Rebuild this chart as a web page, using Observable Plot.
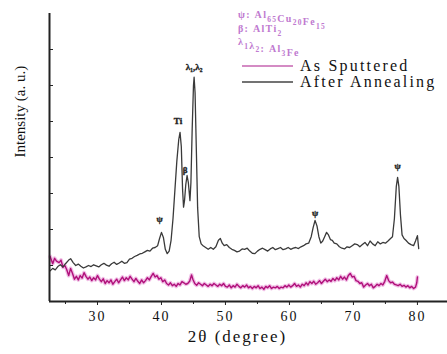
<!DOCTYPE html>
<html><head><meta charset="utf-8">
<script src="https://cdn.jsdelivr.net/npm/d3@7"></script>
<script src="https://cdn.jsdelivr.net/npm/@observablehq/plot@0.6"></script>
<style>
body{margin:0;background:#fff}
#wrap{position:relative;width:447px;height:354px;overflow:hidden;background:#fff}
#overlay{position:absolute;left:0;top:0;pointer-events:none}
</style></head><body>
<div id="wrap"></div>
<script>
// After Annealing (black)
const annealX = [22.6,23.0,23.4,23.8,24.2,24.6,25.0,25.5,25.8,26.2,26.6,27.0,27.4,27.8,28.2,28.6,29.0,29.4,29.8,30.2,30.6,31.0,31.4,31.8,32.2,32.6,33.0,33.4,33.8,34.2,34.6,35.0,35.4,35.8,36.2,36.6,37.0,37.4,37.8,38.2,38.6,39.0,39.4,39.7,40.0,40.3,40.6,40.9,41.2,41.5,41.8,42.1,42.4,42.7,42.9,43.1,43.3,43.45,43.6,43.8,44.0,44.2,44.45,44.6,44.8,45.0,45.1,45.25,45.45,45.65,45.9,46.2,46.5,46.9,47.3,47.7,48.1,48.5,48.9,49.2,49.5,49.8,50.2,50.6,51.0,51.4,51.8,52.2,52.6,53.0,53.4,53.8,54.2,54.6,55.0,55.4,55.8,56.2,56.6,57.0,57.4,57.8,58.2,58.6,59.0,59.4,59.8,60.2,60.6,61.0,61.4,61.8,62.2,62.6,63.0,63.4,63.7,64.0,64.3,64.6,64.9,65.2,65.5,65.8,66.1,66.4,66.7,67.0,67.4,67.8,68.2,68.6,69.0,69.4,69.8,70.2,70.6,71.0,71.4,71.8,72.2,72.6,73.0,73.4,73.8,74.2,74.6,75.0,75.4,75.8,76.1,76.4,76.7,76.9,77.1,77.35,77.6,77.9,78.2,78.6,79.0,79.4,79.7,80.0,80.2];
const annealY = [0.85,0.92,0.88,0.97,1.02,0.96,1.05,1.15,1.19,1.08,1.0,1.04,0.98,0.93,0.96,1.0,0.97,1.02,0.99,0.96,1.02,1.06,1.01,0.98,1.05,1.09,1.03,1.07,1.12,1.06,1.08,1.18,1.2,1.25,1.28,1.32,1.34,1.38,1.42,1.4,1.48,1.5,1.55,1.75,1.92,1.78,1.45,1.33,1.4,1.7,2.3,3.1,3.9,4.5,4.7,4.3,3.1,2.62,2.8,3.25,3.5,3.3,2.8,3.3,4.8,6.0,6.23,5.8,4.2,2.6,1.8,1.6,1.55,1.5,1.45,1.5,1.45,1.52,1.7,1.75,1.62,1.55,1.58,1.5,1.45,1.42,1.38,1.4,1.46,1.45,1.48,1.4,1.34,1.33,1.4,1.45,1.48,1.44,1.4,1.46,1.5,1.44,1.47,1.5,1.44,1.46,1.5,1.45,1.48,1.5,1.47,1.52,1.55,1.6,1.62,1.8,2.05,2.25,2.1,1.8,1.62,1.68,1.8,1.92,1.85,1.72,1.7,1.62,1.6,1.52,1.48,1.46,1.52,1.5,1.55,1.6,1.58,1.52,1.58,1.64,1.55,1.68,1.6,1.55,1.66,1.6,1.64,1.62,1.68,1.75,1.8,2.3,3.2,3.45,3.2,2.4,1.85,1.75,1.7,1.62,1.58,1.55,1.68,1.83,1.47];
// As Sputtered (magenta)
const sputterX = [22.6,23.0,23.3,23.6,24.0,24.3,24.6,24.9,25.2,25.5,25.8,26.1,26.4,26.7,27.0,27.3,27.6,27.9,28.2,28.5,28.8,29.1,29.4,29.7,30.0,30.3,30.6,30.9,31.2,31.5,31.8,32.1,32.4,32.7,33.0,33.3,33.6,33.9,34.2,34.5,34.8,35.1,35.4,35.7,36.0,36.3,36.6,36.9,37.2,37.5,37.8,38.1,38.4,38.7,39.0,39.3,39.6,39.9,40.2,40.5,40.8,41.1,41.4,41.7,42.0,42.3,42.6,42.9,43.2,43.5,43.8,44.1,44.4,44.7,44.9,45.2,45.5,45.8,46.1,46.4,46.7,47.0,47.3,47.6,47.9,48.2,48.5,48.8,49.1,49.4,49.7,50.0,50.3,50.6,50.9,51.2,51.5,51.8,52.1,52.4,52.7,53.0,53.3,53.6,53.9,54.2,54.5,54.8,55.1,55.4,55.7,56.0,56.3,56.6,56.9,57.2,57.5,57.8,58.1,58.4,58.7,59.0,59.3,59.6,59.9,60.2,60.5,60.8,61.1,61.4,61.7,62.0,62.3,62.6,62.9,63.2,63.5,63.8,64.1,64.4,64.7,65.0,65.3,65.6,65.9,66.2,66.5,66.8,67.1,67.4,67.7,68.0,68.3,68.6,68.9,69.2,69.5,69.8,70.1,70.4,70.7,71.0,71.3,71.6,71.9,72.2,72.5,72.8,73.1,73.4,73.7,74.0,74.3,74.6,74.9,75.2,75.5,75.8,76.1,76.4,76.7,77.0,77.3,77.6,77.9,78.2,78.5,78.8,79.1,79.4,79.7,79.9,80.0];
const sputterY = [1.25,1.05,1.2,1.12,1.08,1.15,0.95,1.0,0.88,0.72,0.92,0.78,0.62,0.7,0.6,0.72,0.65,0.8,0.7,0.62,0.68,0.58,0.66,0.6,0.72,0.62,0.55,0.63,0.5,0.58,0.52,0.6,0.48,0.55,0.62,0.52,0.6,0.68,0.58,0.66,0.6,0.7,0.62,0.55,0.64,0.56,0.5,0.6,0.52,0.58,0.66,0.6,0.7,0.78,0.68,0.72,0.62,0.66,0.55,0.6,0.5,0.46,0.52,0.44,0.48,0.42,0.5,0.46,0.55,0.52,0.48,0.5,0.56,0.74,0.62,0.5,0.45,0.52,0.48,0.44,0.5,0.46,0.42,0.48,0.44,0.5,0.46,0.42,0.48,0.44,0.5,0.42,0.4,0.46,0.38,0.44,0.4,0.48,0.42,0.38,0.44,0.4,0.46,0.38,0.42,0.36,0.42,0.38,0.44,0.36,0.4,0.34,0.42,0.38,0.44,0.36,0.4,0.38,0.42,0.36,0.4,0.38,0.44,0.4,0.46,0.4,0.44,0.5,0.42,0.46,0.4,0.48,0.44,0.52,0.46,0.55,0.5,0.56,0.48,0.52,0.58,0.5,0.56,0.62,0.55,0.6,0.56,0.64,0.58,0.66,0.6,0.7,0.62,0.68,0.6,0.72,0.78,0.68,0.7,0.58,0.56,0.5,0.52,0.4,0.46,0.5,0.44,0.48,0.38,0.42,0.48,0.44,0.5,0.46,0.56,0.72,0.58,0.52,0.54,0.48,0.46,0.44,0.48,0.42,0.45,0.4,0.44,0.38,0.42,0.36,0.4,0.52,0.68];

const xDomain = [22.5, 84.7];
const yDomain = [0, 8];
const xTicks = [30, 40, 50, 60, 70, 80];
const xMinorTicks = [25, 35, 45, 55, 65, 75];
const yTicks = [1, 2, 3, 4, 5, 6, 7];

const peakLabels = ["ψ", "Ti", "β", "λ₁,λ₂", "ψ", "ψ"];
const peakX = [40.0, 42.9, 44.0, 45.1, 64.0, 76.9];
const peakY = [1.92, 4.7, 3.5, 6.23, 2.25, 3.45];
const peakDx = [-2, -2, -2, 0, 0, 0];
const peakDy = [-13, -11, -5, -10, -7, -11];

const xTitle = "2θ (degree)";
const yTitle = "Intensity (a. u.)";
const seriesNames = ["As Sputtered", "After Annealing"];
const phaseLines = [
  [["ψ: Al", "65"], ["Cu", "20"], ["Fe", "15"]],
  [["β: AlTi", "2"]],
  [["λ", "1"], ["λ", "2"], [": Al", "3"], ["Fe", ""]]
];

const serif = "'Liberation Serif','DejaVu Serif',serif";
const anneal = annealX.map((x, i) => ({x, y: annealY[i]}));
const sputter = sputterX.map((x, i) => ({x, y: sputterY[i]}));
const peaks = peakX.map((x, i) => ({x, y: peakY[i], label: peakLabels[i], dx: peakDx[i], dy: peakDy[i]}));

const chart = Plot.plot({
  width: 447, height: 354,
  marginLeft: 49, marginRight: 0, marginTop: 13, marginBottom: 53,
  style: {fontFamily: serif, background: "#fff", color: "#111"},
  x: {domain: xDomain},
  y: {domain: yDomain},
  marks: [
    Plot.line(sputter, {x: "x", y: "y", stroke: "#e27ccb", strokeWidth: 3.8, strokeOpacity: 0.5}),
    Plot.line(sputter, {x: "x", y: "y", stroke: "#b0107a", strokeWidth: 1.4}),
    Plot.line(anneal, {x: "x", y: "y", stroke: "#3a3a3a", strokeWidth: 1.3}),
    ...peaks.map(p => Plot.text([p], {x: "x", y: "y", text: "label", dx: p.dx, dy: p.dy,
      fontSize: 9, fontWeight: "bold", fill: "#222", stroke: "#222", strokeWidth: 0.35})),
    Plot.ruleX([xDomain[0]], {stroke: "#222", strokeWidth: 2}),
    Plot.ruleY([yDomain[0]], {stroke: "#222", strokeWidth: 2}),
    Plot.axisX({ticks: xTicks, tickSize: 4, tickPadding: 6, fontSize: 14, label: null, stroke: "#222"}),
    Plot.axisX({ticks: xMinorTicks, tickSize: 3, tickFormat: () => "", label: null, stroke: "#222"}),
    Plot.axisY({ticks: yTicks, tickSize: 4, tickFormat: () => "", label: null, dx: 4, stroke: "#222"}),
    Plot.text([xTitle], {frameAnchor: "bottom", dx: -11, dy: 40, fontSize: 17, fill: "#111"}),
    Plot.text([yTitle], {frameAnchor: "left", dx: -29, rotate: -90, fontSize: 15, fill: "#111"})
  ]
});
const wrap = document.getElementById("wrap");
wrap.appendChild(chart);
d3.select(chart).selectAll("g[aria-label='x-axis tick label'] text").style("letter-spacing", "2px");
d3.select(chart).selectAll("g[aria-label='text']").filter(function(){ return d3.select(this).text() === xTitle; }).style("letter-spacing", "2px");

// legend overlay
const ov = d3.select(wrap).append("svg").attr("id", "overlay").attr("width", 447).attr("height", 354);
const baselines = [18, 32, 45];
phaseLines.forEach((parts, i) => {
  const t = ov.append("text").attr("x", 238).attr("y", baselines[i])
    .attr("font-family", serif).attr("font-size", 10).attr("font-weight", "bold")
    .attr("fill", "#c07ad0").style("letter-spacing", "1.3px");
  parts.forEach(([main, sub]) => {
    t.append("tspan").text(main);
    if (sub) {
      t.append("tspan").attr("font-size", 7.5).attr("dy", 3.5).text(sub);
      t.append("tspan").attr("dy", -3.5).text("");
    }
  });
});
const legendColors = ["#c665b0", "#444"];
const legendY = [66, 82];
seriesNames.forEach((name, i) => {
  ov.append("line").attr("x1", 242).attr("x2", 293).attr("y1", legendY[i]).attr("y2", legendY[i])
    .attr("stroke", legendColors[i]).attr("stroke-width", 1.5);
  ov.append("text").attr("x", 300).attr("y", legendY[i] + 5).attr("font-family", serif)
    .attr("font-size", 16).attr("fill", "#111").style("letter-spacing", "2.2px").text(name);
});
</script>
</body></html>
